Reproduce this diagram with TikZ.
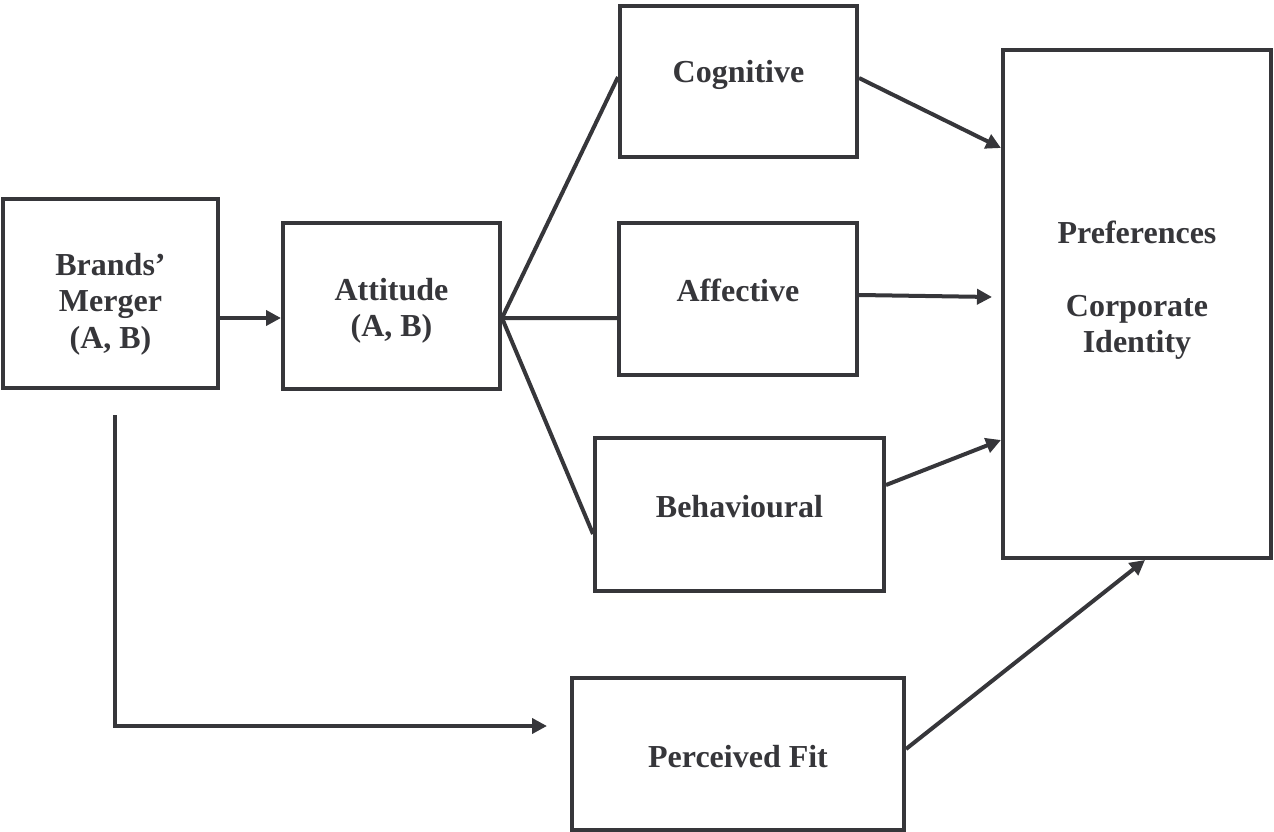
\documentclass[tikz,border=0pt]{standalone}
\usepackage{fontspec}
\setmainfont{Liberation Serif}
\usetikzlibrary{arrows.meta}
\definecolor{ink}{RGB}{54,54,58}
\begin{document}
\begin{tikzpicture}[x=1pt,y=-1pt,
  box/.style={draw=ink, line width=4pt, inner sep=0pt, fill=white},
  lbl/.style={text=ink, font=\bfseries\fontsize{32}{36.5}\selectfont, align=center, inner sep=0pt},
  conn/.style={draw=ink, line width=4pt},
  arr/.style={conn, -{Triangle[length=15pt,width=15pt]}}]
\useasboundingbox (0,0) rectangle (1274,832);
% boxes
\node[box, minimum width=215pt, minimum height=189pt] (merger) at (110.5,293.5) {};
\node[box, minimum width=217pt, minimum height=166pt] (att) at (391.5,306) {};
\node[box, minimum width=237pt, minimum height=151pt] (cog) at (738.5,81.5) {};
\node[box, minimum width=238pt, minimum height=152pt] (aff) at (738,299) {};
\node[box, minimum width=289pt, minimum height=153pt] (beh) at (739.5,514.5) {};
\node[box, minimum width=268pt, minimum height=508pt] (pref) at (1137,304) {};
\node[box, minimum width=332pt, minimum height=152pt] (fit) at (738,754) {};
% labels
\node[lbl] (mergerT) at (110.5,304) {Brands’\\Merger\\(A, B)};
\node[lbl] (attT) at (391.5,311) {Attitude\\(A, B)};
\node[lbl, anchor=base] (cogT) at (738.5,83) {Cognitive};
\node[lbl, anchor=base] (affT) at (738,301) {Affective};
\node[lbl, anchor=base] (behT) at (739.5,517) {Behavioural};
\node[lbl] (prefT) at (1137,290) {Preferences\\[36.5pt]Corporate\\Identity};
\node[lbl, anchor=base] (fitT) at (738,767) {Perceived Fit};
% free ends
\coordinate (affEnd) at (992,297);
\coordinate (lstart) at (115,415);
\coordinate (lend) at (547,726);
% connectors
\draw[arr] ([yshift=-24.5pt]merger.east) -- ([yshift=-12pt]att.west);
\draw[conn] ([yshift=4.5pt]cog.west) -- ([yshift=-12pt]att.east) -- ([yshift=-19pt]aff.west);
\draw[conn] ([yshift=-12pt]att.east) -- ([yshift=-19.5pt]beh.west);
\draw[arr] ([yshift=3.5pt]cog.east) -- ([yshift=156pt]pref.west);
\draw[arr] ([yshift=4pt]aff.east) -- (affEnd);
\draw[arr] ([yshift=29.5pt]beh.east) -- ([yshift=-136pt]pref.west);
\draw[arr] ([yshift=5pt]fit.east) -- ([xshift=8pt]pref.south);
\draw[arr] (lstart) |- (lend);
\end{tikzpicture}
\end{document}
